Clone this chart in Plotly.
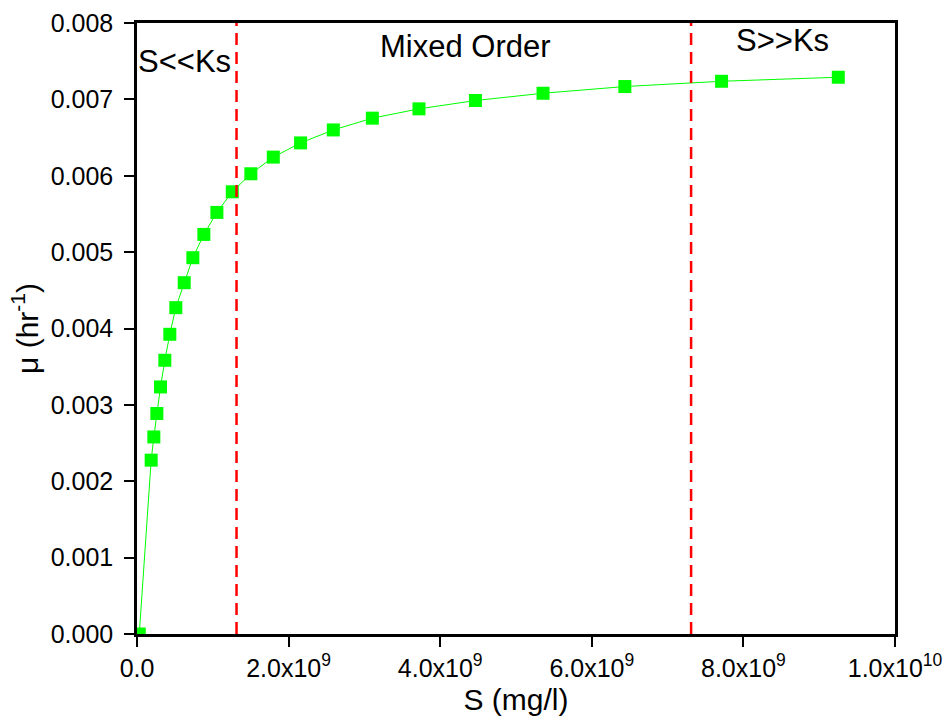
import plotly.graph_objects as go

# Data
S_values = [3e7, 1.87e8, 2.22e8, 2.62e8, 3.10e8, 3.67e8, 4.33e8, 5.12e8, 6.23e8,
            7.37e8, 8.82e8, 1.054e9, 1.257e9, 1.502e9, 1.798e9, 2.158e9, 2.59e9,
            3.105e9, 3.72e9, 4.465e9, 5.357e9, 6.436e9, 7.712e9, 9.252e9]
mu_values = [0.0, 0.002276, 0.00258, 0.002887, 0.003235, 0.003584, 0.003924, 0.004273,
             0.0046, 0.004927, 0.005232, 0.00552, 0.00579, 0.006026, 0.006244, 0.00643,
             0.0066, 0.006754, 0.006876, 0.006985, 0.00708, 0.007168, 0.007237, 0.00729]

boundary_lines = [1.313e9, 7.31e9]

region_labels = ["S<<Ks", "Mixed Order", "S>>Ks"]
region_label_x = [0.63e9, 4.34e9, 8.52e9]
region_label_y = [0.0075, 0.00769, 0.00777]

x_tickvals = [0, 2e9, 4e9, 6e9, 8e9, 1e10]
x_ticktext = ["0.0", "2.0x10<sup>9</sup>", "4.0x10<sup>9</sup>", "6.0x10<sup>9</sup>",
              "8.0x10<sup>9</sup>", "1.0x10<sup>10</sup>"]
y_tickvals = [0, 0.001, 0.002, 0.003, 0.004, 0.005, 0.006, 0.007, 0.008]
y_ticktext = ["0.000", "0.001", "0.002", "0.003", "0.004", "0.005", "0.006", "0.007", "0.008"]

FONT = "Arial, 'Liberation Sans', sans-serif"

fig = go.Figure()
fig.add_trace(go.Scatter(
    x=S_values, y=mu_values, mode="lines+markers",
    line=dict(color="#00ff00", width=1),
    marker=dict(symbol="square", size=13, color="#00ff00"),
    showlegend=False,
))

for xv in boundary_lines:
    fig.add_shape(type="line", xref="x", yref="y", x0=xv, x1=xv, y0=0, y1=0.008,
                  line=dict(color="#ff0000", width=2.5, dash="12px,7px"), layer="above")

for txt, xv, yv in zip(region_labels, region_label_x, region_label_y):
    fig.add_annotation(x=xv, y=yv, xref="x", yref="y", text=txt, showarrow=False,
                       font=dict(family=FONT, size=31, color="black"))

axis_common = dict(showgrid=False, zeroline=False, showline=True, linecolor="black",
                   linewidth=2.5, mirror=True, ticks="outside", ticklen=10, tickwidth=2,
                   tickcolor="black", tickfont=dict(family=FONT, size=25, color="black"))

fig.update_xaxes(range=[0, 1e10], tickmode="array", tickvals=x_tickvals, ticktext=x_ticktext,
                 title=dict(text="S (mg/l)", font=dict(family=FONT, size=30, color="black"),
                            standoff=9),
                 **axis_common)
fig.update_yaxes(range=[0, 0.008], tickmode="array", tickvals=y_tickvals, ticktext=y_ticktext,
                 title=dict(text="μ (hr<sup>-1</sup>)", font=dict(family=FONT, size=30, color="black"),
                            standoff=4),
                 ticklabelstandoff=6,
                 **axis_common)

fig.update_layout(
    width=947, height=722,
    margin=dict(l=137, r=52, t=23, b=88, autoexpand=False),
    plot_bgcolor="white", paper_bgcolor="white",
)

fig.write_html("out.html", config={"displayModeBar": False},
               post_script="document.body.style.margin='0px';document.body.style.overflow='hidden';")
